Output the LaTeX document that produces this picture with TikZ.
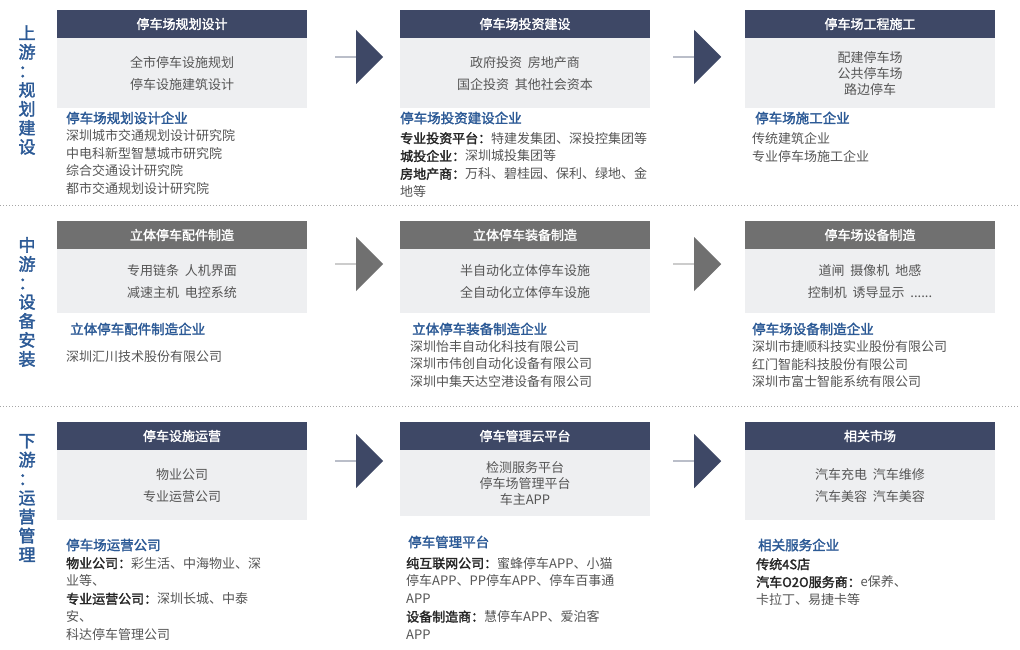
\documentclass[tikz,border=0pt]{standalone}
\usepackage{fontspec}
\setmainfont{Noto Sans CJK SC}
\newfontfamily\cjkb[FakeBold=2]{Noto Sans CJK SC}
\usetikzlibrary{positioning,shapes.arrows}
\definecolor{navy}{HTML}{3E4866}
\definecolor{midgray}{HTML}{707070}
\definecolor{bodygray}{HTML}{EEEFF1}
\definecolor{titleblue}{HTML}{2C5A96}
\definecolor{txt}{HTML}{555555}
\tikzset{
  head/.style={fill=#1, text=white, minimum width=250pt, minimum height=28pt, font=\cjkb\fontsize{13}{14}\selectfont, inner sep=0pt},
  body/.style={fill=bodygray, minimum width=250pt, minimum height=#1, text=txt, align=center, font=\fontsize{13}{22}\selectfont, inner sep=0pt},
  list/.style={anchor=north west, align=left, text=txt, font=\fontsize{13}{17.8}\selectfont, inner sep=0pt},
  ltitle/.style={anchor=west, text=titleblue, font=\cjkb\fontsize{13.5}{14}\selectfont, inner sep=0pt},
  flow/.style={single arrow, fill=#1, minimum width=54pt, single arrow head extend=11pt, minimum height=48pt, single arrow tip angle=90, inner sep=0pt},
  stage/.style={text=titleblue, font=\cjkb\fontsize{17}{19}\selectfont, align=center, inner sep=0pt},
  sep/.style={gray!70, dotted, line width=1pt}
}
\newcommand{\bb}[1]{{\cjkb\color{black!85}#1}}
\begin{document}
\begin{tikzpicture}[x=1pt,y=-1pt]
\useasboundingbox[fill=white] (0,0) rectangle (1020,650);
% separators
\draw[sep] (0,205) -- (1020,205);
\draw[sep] (0,406) -- (1020,406);
% stage labels
\node[stage] (s1) at (27,90) {上\\游\\：\\规\\划\\建\\设};
\node[stage] (s2) at (27,302) {中\\游\\：\\设\\备\\安\\装};
\node[stage] (s3) at (27,498) {下\\游\\：\\运\\营\\管\\理};
% row 1
\node[head=navy] (h11) at (182,24) {停车场规划设计};
\node[body=70pt, below=0pt of h11] (b11) {全市停车设施规划\\停车设施建筑设计};
\node[head=navy] (h12) at (525,24) {停车场投资建设};
\node[body=70pt, below=0pt of h12] (b12) {政府投资\ \ 房地产商\\国企投资\ \ 其他社会资本};
\node[head=navy] (h13) at (870,24) {停车场工程施工};
\node[body=70pt, below=0pt of h13, font=\fontsize{13}{16}\selectfont] (b13) {配建停车场\\公共停车场\\路边停车};
\node[flow=navy] (a11) at (359,57) {};
\node[flow=navy] (a12) at (697,57) {};
\node[ltitle] (t11) at (66,118) {停车场规划设计企业};
\node[list] (l11) at (66,129) {深圳城市交通规划设计研究院\\中电科新型智慧城市研究院\\综合交通设计研究院\\都市交通规划设计研究院};
\node[ltitle] (t12) at (400,118) {停车场投资建设企业};
\node[list] (l12) at (400,132) {\bb{专业投资平台：}特建发集团、深投控集团等\\\bb{城投企业：}深圳城投集团等\\\bb{房地产商：}万科、碧桂园、保利、绿地、金\\地等};
\node[ltitle] (t13) at (755,118) {停车场施工企业};
\node[list] (l13) at (752,132) {传统建筑企业\\专业停车场施工企业};
% row 2
\node[head=midgray] (h21) at (182,235) {立体停车配件制造};
\node[body=64pt, below=0pt of h21] (b21) {专用链条\ \ 人机界面\\减速主机\ \ 电控系统};
\node[head=midgray] (h22) at (525,235) {立体停车装备制造};
\node[body=64pt, below=0pt of h22] (b22) {半自动化立体停车设施\\全自动化立体停车设施};
\node[head=midgray] (h23) at (870,235) {停车场设备制造};
\node[body=64pt, below=0pt of h23] (b23) {道闸\ \ 摄像机\ \ 地感\\控制机\ \ 诱导显示\ \ ......};
\node[flow=midgray] (a21) at (359,264) {};
\node[flow=midgray] (a22) at (697,264) {};
\node[ltitle] (t21) at (70,329) {立体停车配件制造企业};
\node[list] (l21) at (66,350) {深圳汇川技术股份有限公司};
\node[ltitle] (t22) at (412,329) {立体停车装备制造企业};
\node[list] (l22) at (410,340) {深圳怡丰自动化科技有限公司\\深圳市伟创自动化设备有限公司\\深圳中集天达空港设备有限公司};
\node[ltitle] (t23) at (752,329) {停车场设备制造企业};
\node[list] (l23) at (752,340) {深圳市捷顺科技实业股份有限公司\\红门智能科技股份有限公司\\深圳市富士智能系统有限公司};
% row 3
\node[head=navy] (h31) at (182,436) {停车设施运营};
\node[body=70pt, below=0pt of h31] (b31) {物业公司\\专业运营公司};
\node[head=navy] (h32) at (525,436) {停车管理云平台};
\node[body=66pt, below=0pt of h32, font=\fontsize{13}{16}\selectfont] (b32) {检测服务平台\\停车场管理平台\\车主APP};
\node[head=navy] (h33) at (870,436) {相关市场};
\node[body=70pt, below=0pt of h33] (b33) {汽车充电\ \ 汽车维修\\汽车美容\ \ 汽车美容};
\node[flow=navy] (a31) at (359,461) {};
\node[flow=navy] (a32) at (697,461) {};
\node[ltitle] (t31) at (66,545) {停车场运营公司};
\node[list] (l31) at (66,557) {\bb{物业公司：}彩生活、中海物业、深\\业等、\\\bb{专业运营公司：}深圳长城、中泰\\安、\\科达停车管理公司};
\node[ltitle] (t32) at (408,542) {停车管理平台};
\node[list] (l32) at (406,557) {\bb{纯互联网公司：}蜜蜂停车APP、小猫\\停车APP、PP停车APP、停车百事通\\APP\\\bb{设备制造商：}慧停车APP、爱泊客\\APP};
\node[ltitle] (t33) at (758,545) {相关服务企业};
\node[list] (l33) at (756,558) {\bb{传统4S店}\\\bb{汽车O2O服务商：}e保养、\\卡拉丁、易捷卡等};
\end{tikzpicture}
\end{document}
